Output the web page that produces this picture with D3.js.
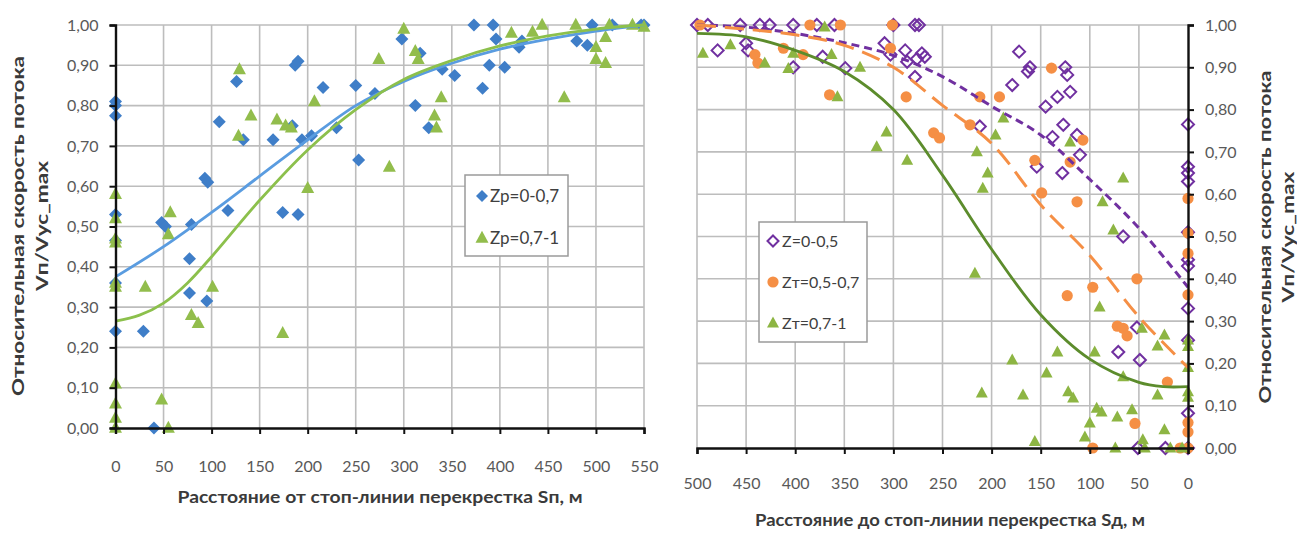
<!DOCTYPE html>
<html><head><meta charset="utf-8">
<script src="https://cdn.jsdelivr.net/npm/d3@7"></script>
<style>
body{margin:0;background:#fff;}
svg{display:block;font-family:Lato,"Open Sans",sans-serif;}
</style></head>
<body>
<svg id="chart" width="1297" height="535"></svg>
<script>
// ---------- DATA ----------
const yTicks = [0,0.1,0.2,0.3,0.4,0.5,0.6,0.7,0.8,0.9,1.0];
const yTickLabels = ["0,00","0,10","0,20","0,30","0,40","0,50","0,60","0,70","0,80","0,90","1,00"];
const leftXTicks = [0,50,100,150,200,250,300,350,400,450,500,550];
const rightXTicks = [500,450,400,350,300,250,200,150,100,50,0];

const leftXTitle = "Расстояние от стоп-линии перекрестка Sп, м";
const rightXTitle = "Расстояние до стоп-линии перекрестка Sд, м";
const yTitle1 = "Относительная скорость потока";
const yTitle2 = "Vп/Vус_max";

const leftNames = ["Zp=0-0,7","Zp=0,7-1"];
const rightNames = ["Z=0-0,5","Zт=0,5-0,7","Zт=0,7-1"];

// left chart: Zp=0-0,7 (blue diamonds)
const zpLow = [[0,0.81],[0,0.80],[0,0.775],[0,0.53],[0,0.465],[0,0.36],[0,0.24],
 [29,0.24],[40,0.00],[48,0.51],[52,0.50],[77,0.42],[77,0.335],[79,0.505],[93,0.62],[96,0.61],[95,0.315],
 [108,0.76],[117,0.54],[126,0.86],[133,0.715],[164,0.715],[174,0.535],[184,0.75],[187,0.90],[190,0.91],
 [190,0.53],[194,0.715],[204,0.725],[216,0.845],[230,0.745],[250,0.85],[253,0.665],[270,0.83],[298,0.965],
 [317,0.93],[312,0.80],[326,0.745],[340,0.89],[353,0.875],[373,1.00],[393,1.00],[396,0.965],[382,0.843],
 [389,0.90],[405,0.895],[420,0.945],[423,0.96],[480,0.96],[491,0.95],[496,1.00],[517,1.00],[547,1.00],[550,1.00]];
// left chart: Zp=0,7-1 (green triangles)
const zpHigh = [[0,0.58],[0,0.52],[0,0.47],[0,0.46],[0,0.36],[0,0.35],[0,0.11],[0,0.06],[0,0.025],[0,0.00],
 [31,0.35],[48,0.07],[55,0.00],[55,0.48],[57,0.535],[79,0.28],[86,0.26],[101,0.35],[128,0.725],[129,0.89],
 [141,0.775],[168,0.765],[174,0.235],[177,0.75],[183,0.745],[200,0.595],[207,0.81],[274,0.915],[285,0.648],
 [300,0.99],[312,0.935],[315,0.915],[332,0.775],[334,0.745],[339,0.82],[412,0.98],[434,0.983],[444,1.00],
 [467,0.82],[479,1.00],[500,0.945],[500,0.915],[510,0.97],[510,0.905],[514,1.00],[538,1.00],[550,0.995]];
// left trend lines
const zpLowTrend = [[0,0.375],[50,0.45],[100,0.535],[150,0.625],[200,0.715],[250,0.80],[300,0.86],[350,0.905],[400,0.94],[450,0.965],[500,0.985],[550,1.0]];
const zpHighTrend = [[0,0.265],[25,0.28],[50,0.31],[75,0.36],[100,0.425],[150,0.565],[200,0.69],[250,0.79],[300,0.865],[350,0.912],[400,0.948],[450,0.973],[500,0.99],[550,1.0]];

// right chart: Z=0-0,5 (purple open diamonds)
const zA = [[500,1.00],[489,1.00],[479,0.94],[456,1.00],[450,0.957],[448,0.94],[436,1.00],[426,1.00],[402,1.00],
 [402,0.90],[378,1.00],[372,0.925],[360,1.00],[349,0.898],[309,0.957],[303,0.93],[300,1.00],[288,0.94],[286,0.913],
 [278,1.00],[274,1.00],[278,0.877],[276,0.92],[271,0.933],[268,0.925],[212,0.76],[172,0.937],[179,0.858],[163,0.89],
 [161,0.90],[154,0.665],[145,0.807],[138,0.735],[133,0.83],[128,0.65],[127,0.764],[125,0.90],[123,0.882],[120,0.842],
 [113,0.74],[110,0.693],[71,0.227],[66,0.50],[52,0.285],[51,0.00],[49,0.208],[23,0.00],[0,0.765],[0,0.665],[0,0.65],
 [0,0.63],[0,0.51],[0,0.445],[0,0.43],[0,0.33],[0,0.255],[0,0.082],[0,0.00]];
// right chart: Zт=0,5-0,7 (orange circles)
const zB = [[497,1.00],[441,0.93],[438,0.91],[412,0.945],[392,0.93],[385,1.00],[365,0.835],[354,1.00],[303,0.945],
 [301,1.00],[287,0.83],[259,0.745],[253,0.733],[222,0.764],[212,0.83],[192,0.83],[156,0.68],[149,0.603],[139,0.898],
 [123,0.36],[120,0.676],[113,0.582],[107,0.728],[97,0.38],[97,0.00],[72,0.288],[66,0.283],[62,0.265],[54,0.058],
 [52,0.40],[21,0.156],[8,0.00],[0,0.59],[0,0.508],[0,0.46],[0,0.362],[0,0.06],[0,0.038],[0,0.00]];
// right chart: Zт=0,7-1 (green triangles)
const zC = [[494,0.933],[466,0.953],[431,0.91],[407,0.897],[402,0.933],[370,0.995],[363,0.93],[357,0.83],[334,0.90],
 [317,0.712],[307,0.747],[286,0.68],[217,0.413],[215,0.70],[210,0.13],[209,0.614],[204,0.65],[196,0.74],[188,0.78],
 [179,0.208],[168,0.125],[156,0.015],[144,0.177],[133,0.227],[122,0.133],[120,0.723],[117,0.118],[105,0.026],[100,0.059],
 [95,0.227],[93,0.094],[90,0.333],[88,0.085],[87,0.582],[76,0.515],[74,0.00],[72,0.073],[66,0.638],[66,0.168],[57,0.09],
 [47,0.283],[46,0.019],[44,0.00],[31,0.241],[31,0.125],[24,0.267],[24,0.043],[18,0.00],[6,0.00],[0,0.255],[0,0.24],
 [0,0.19],[0,0.133],[0,0.12]];
// right trend lines
const zATrend = [[500,1.0],[450,0.995],[400,0.98],[350,0.958],[300,0.928],[250,0.878],[200,0.808],[150,0.74],[100,0.635],[50,0.52],[0,0.38]];
const zBTrend = [[500,1.0],[450,0.99],[400,0.977],[350,0.952],[300,0.90],[250,0.81],[200,0.72],[150,0.575],[100,0.455],[50,0.31],[0,0.19]];
const zCTrend = [[500,0.98],[450,0.972],[400,0.94],[350,0.89],[300,0.80],[250,0.645],[200,0.47],[150,0.315],[100,0.21],[50,0.155],[25,0.145],[0,0.145]];

// ---------- DRAW ----------
const svg = d3.select("#chart");
svg.append("rect").attr("width",1297).attr("height",535).attr("fill","#fff");

const GRID = "#bdbdbd", AXIS = "#111", TICKC = "#595959", TITLEC = "#3a3a3a";
const C = {blue:"#3f7ec8", blueLine:"#5a9ce0", green:"#92bd4c", greenLine:"#8cc04c",
           purple:"#7030a0", orange:"#f58f45", green2:"#8db543", green2Line:"#5c8c2c"};

function diamond(r){return `M0,${-r}L${r},0L0,${r}L${-r},0Z`;}
function triangle(w,h){return `M0,${-h*0.6}L${w/2},${h*0.4}L${-w/2},${h*0.4}Z`;}

// ===== LEFT CHART =====
const lx = d3.scaleLinear().domain([0,550]).range([115.5,644]);
const ly = d3.scaleLinear().domain([0,1]).range([428,25]);
const L = svg.append("g");

// grid
L.append("g").selectAll("line").data(yTicks.filter(d=>d>0)).join("line")
 .attr("x1",lx(0)).attr("x2",lx(550)).attr("y1",d=>ly(d)).attr("y2",d=>ly(d))
 .attr("stroke",GRID).attr("stroke-width",1.6);
L.append("g").selectAll("line").data(leftXTicks.filter(d=>d>0)).join("line")
 .attr("x1",d=>lx(d)).attr("x2",d=>lx(d)).attr("y1",ly(0)).attr("y2",ly(1))
 .attr("stroke",GRID).attr("stroke-width",1.6);

// axes
const lAxisY = d3.axisLeft(ly).tickValues(yTicks).tickFormat((d,i)=>yTickLabels[i]).tickSize(6).tickPadding(11);
const gly = L.append("g").attr("transform",`translate(${lx(0)},0)`).call(lAxisY);
const lAxisX = d3.axisBottom(lx).tickValues(leftXTicks).tickSize(6).tickPadding(27);
const glx = L.append("g").attr("transform",`translate(0,${ly(0)})`).call(lAxisX);

// markers
L.append("g").selectAll("path").data(zpLow).join("path")
 .attr("d",diamond(6.5)).attr("transform",d=>`translate(${lx(d[0])},${ly(d[1])})`).attr("fill",C.blue);
L.append("g").selectAll("path").data(zpHigh).join("path")
 .attr("d",triangle(13,12)).attr("transform",d=>`translate(${lx(d[0])},${ly(d[1])})`).attr("fill",C.green);

// trend lines
const lline = d3.line().x(d=>lx(d[0])).y(d=>ly(d[1])).curve(d3.curveCatmullRom);
L.append("path").datum(zpLowTrend).attr("d",lline).attr("fill","none").attr("stroke",C.blueLine).attr("stroke-width",2.8);
L.append("path").datum(zpHighTrend).attr("d",lline).attr("fill","none").attr("stroke",C.greenLine).attr("stroke-width",2.8);

// legend left
const lg = L.append("g");
lg.append("rect").attr("x",465).attr("y",175).attr("width",103).attr("height",81)
 .attr("fill","#fff").attr("stroke","#9a9a9a").attr("stroke-width",1.5);
lg.append("path").attr("d",diamond(6)).attr("transform","translate(482,196)").attr("fill",C.blue);
lg.append("path").attr("d",triangle(13,12)).attr("transform","translate(482,238)").attr("fill",C.green);
lg.selectAll("text").data(leftNames).join("text")
 .attr("x",490).attr("y",(d,i)=>196+i*42).attr("dy","0.35em")
 .attr("font-size",17).attr("fill","#404040").text(d=>d);

// ===== RIGHT CHART =====
const rx = d3.scaleLinear().domain([500,0]).range([697,1188]);
const ry = d3.scaleLinear().domain([0,1]).range([448,25]);
const R = svg.append("g");

R.append("g").selectAll("line").data(yTicks.filter(d=>d>0)).join("line")
 .attr("x1",rx(500)).attr("x2",rx(0)).attr("y1",d=>ry(d)).attr("y2",d=>ry(d))
 .attr("stroke",GRID).attr("stroke-width",1.6);
R.append("g").selectAll("line").data(rightXTicks.filter(d=>d>0)).join("line")
 .attr("x1",d=>rx(d)).attr("x2",d=>rx(d)).attr("y1",ry(0)).attr("y2",ry(1))
 .attr("stroke",GRID).attr("stroke-width",1.6);

const rAxisY = d3.axisRight(ry).tickValues(yTicks).tickFormat((d,i)=>yTickLabels[i]).tickSize(6).tickPadding(11);
const gry = R.append("g").attr("transform",`translate(${rx(0)},0)`).call(rAxisY);
const rAxisX = d3.axisBottom(rx).tickValues(rightXTicks).tickSize(6).tickPadding(24);
const grx = R.append("g").attr("transform",`translate(0,${ry(0)})`).call(rAxisX);

R.append("g").selectAll("path").data(zA).join("path")
 .attr("d",diamond(6)).attr("transform",d=>`translate(${rx(d[0])},${ry(d[1])})`)
 .attr("fill","none").attr("stroke",C.purple).attr("stroke-width",2);
R.append("g").selectAll("circle").data(zB).join("circle")
 .attr("cx",d=>rx(d[0])).attr("cy",d=>ry(d[1])).attr("r",5.6).attr("fill",C.orange);
R.append("g").selectAll("path").data(zC).join("path")
 .attr("d",triangle(12,11)).attr("transform",d=>`translate(${rx(d[0])},${ry(d[1])})`).attr("fill",C.green2);

const rline = d3.line().x(d=>rx(d[0])).y(d=>ry(d[1])).curve(d3.curveCatmullRom);
R.append("path").datum(zATrend).attr("d",rline).attr("fill","none").attr("stroke",C.purple)
 .attr("stroke-width",3).attr("stroke-dasharray","8,5");
R.append("path").datum(zBTrend).attr("d",rline).attr("fill","none").attr("stroke",C.orange)
 .attr("stroke-width",3).attr("stroke-dasharray","19,9");
R.append("path").datum(zCTrend).attr("d",rline).attr("fill","none").attr("stroke",C.green2Line)
 .attr("stroke-width",2.8);

// legend right
const rg = R.append("g");
rg.append("rect").attr("x",759).attr("y",222).attr("width",108).attr("height",120)
 .attr("fill","#fff").attr("stroke","#9a9a9a").attr("stroke-width",1.5);
rg.append("path").attr("d",diamond(5.5)).attr("transform","translate(773,241)")
 .attr("fill","none").attr("stroke",C.purple).attr("stroke-width",2);
rg.append("circle").attr("cx",773).attr("cy",282).attr("r",5.6).attr("fill",C.orange);
rg.append("path").attr("d",triangle(12,11)).attr("transform","translate(773,323)").attr("fill",C.green2);
rg.selectAll("text").data(rightNames).join("text")
 .attr("x",782).attr("y",(d,i)=>241+i*41).attr("dy","0.35em")
 .attr("font-size",16).attr("fill","#404040").text(d=>d);

// axis styling
[gly,glx,gry,grx].forEach(g=>{
  g.select(".domain").attr("stroke",AXIS).attr("stroke-width",2.4);
  g.selectAll(".tick line").attr("stroke",AXIS).attr("stroke-width",2);
  g.selectAll(".tick text").attr("fill",TICKC).attr("font-size",16).attr("font-family","Lato,sans-serif");
});
[gly,glx,gry,grx].forEach(g=>g.raise());

// titles
svg.append("text").attr("x",380).attr("y",503).attr("text-anchor","middle")
 .attr("font-size",17).attr("font-weight","bold").attr("fill",TITLEC)
 .attr("textLength",405).attr("lengthAdjust","spacingAndGlyphs").text(leftXTitle);
svg.append("text").attr("x",950).attr("y",526).attr("text-anchor","middle")
 .attr("font-size",17).attr("font-weight","bold").attr("fill",TITLEC)
 .attr("textLength",390).attr("lengthAdjust","spacingAndGlyphs").text(rightXTitle);

function yTitle(cx, cy, len1, len2, gap){
  const g = svg.append("g").attr("transform",`translate(${cx},${cy}) rotate(-90)`);
  g.append("text").attr("x",0).attr("y",0).attr("text-anchor","middle").attr("dy","0.35em")
   .attr("font-size",17).attr("font-weight","bold").attr("fill",TITLEC)
   .attr("textLength",len1).attr("lengthAdjust","spacingAndGlyphs").text(yTitle1);
  g.append("text").attr("x",0).attr("y",gap).attr("text-anchor","middle").attr("dy","0.35em")
   .attr("font-size",17).attr("font-weight","bold").attr("fill",TITLEC)
   .attr("textLength",len2).attr("lengthAdjust","spacingAndGlyphs").text(yTitle2);
}
yTitle(18, 226, 340, 130, 24);
yTitle(1265, 237, 333, 131, 23);
</script>
</body></html>
